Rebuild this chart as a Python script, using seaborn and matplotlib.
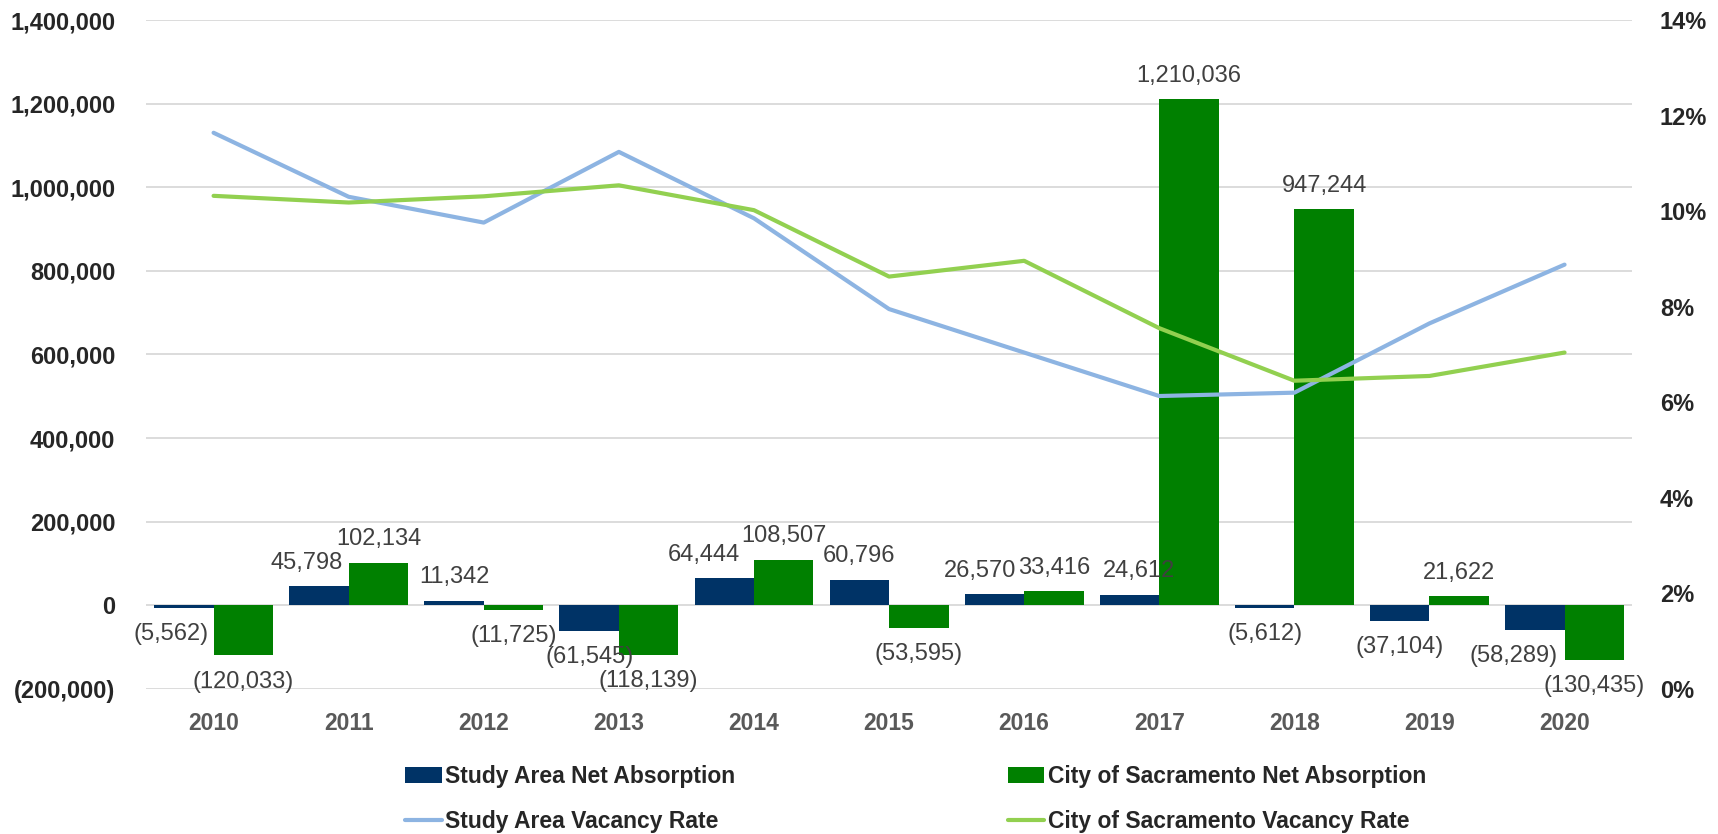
import numpy as np
import pandas as pd
import matplotlib
matplotlib.use('Agg')
import matplotlib.pyplot as plt
import seaborn as sns
from matplotlib.ticker import FuncFormatter, PercentFormatter

years = ['2010', '2011', '2012', '2013', '2014', '2015', '2016', '2017', '2018', '2019', '2020']
study_abs = [-5562, 45798, 11342, -61545, 64444, 60796, 26570, 24612, -5612, -37104, -58289]
city_abs = [-120033, 102134, -11725, -118139, 108507, -53595, 33416, 1210036, 947244, 21622, -130435]
study_vac = [0.1164, 0.1030, 0.0976, 0.1124, 0.0985, 0.0795, 0.0704, 0.0613, 0.0620, 0.0765, 0.0888]
city_vac = [0.1032, 0.1018, 0.1031, 0.1054, 0.1002, 0.0863, 0.0896, 0.0755, 0.0645, 0.0655, 0.0704]

s_abs = 'Study Area Net Absorption'
c_abs = 'City of Sacramento Net Absorption'
s_vac = 'Study Area Vacancy Rate'
c_vac = 'City of Sacramento Vacancy Rate'

navy = '#003366'
green = '#008000'
light_blue = '#8DB4E2'
light_green = '#92D050'

df = pd.DataFrame({
    'year': years * 2,
    'series': [s_abs] * len(years) + [c_abs] * len(years),
    'value': study_abs + city_abs,
})

sns.set_theme(style='white')
plt.rcParams['font.family'] = ['Liberation Sans', 'DejaVu Sans']

fig = plt.figure(figsize=(17.18, 8.34), dpi=100)
ax = fig.add_axes([0.085, 0.174, 0.865, 0.802])

sns.barplot(data=df, x='year', y='value', hue='series', hue_order=[s_abs, c_abs],
            palette=[navy, green], saturation=1, width=0.88, linewidth=0, ax=ax)

ax2 = ax.twinx()
xs = np.arange(len(years))
sns.lineplot(x=xs, y=study_vac, color=light_blue, linewidth=3.0, ax=ax2, label=s_vac)
sns.lineplot(x=xs, y=city_vac, color=light_green, linewidth=3.0, ax=ax2, label=c_vac)


def fmt_num(v, pos=None):
    if v < 0:
        return f'({-v:,.0f})'
    return f'{v:,.0f}'


# data labels, small sideways nudges (points) for the study area ones
nudge = {0: [-9, -9, 0, 0, -15, 0, -10, 7, 0, 0, -15], 1: [0] * 11}
for k, cont in enumerate(ax.containers):
    for i, bar in enumerate(cont):
        h = bar.get_height()
        xc = bar.get_x() + bar.get_width() / 2
        dy = 9 if h >= 0 else -11
        ax.annotate(fmt_num(h), (xc, h), xytext=(nudge[k][i], dy), textcoords='offset points',
                    ha='center', va='bottom' if h >= 0 else 'top',
                    fontsize=17, color='#404040')

ax.set_ylim(-200000, 1400000)
ax.set_yticks(np.arange(-200000, 1400001, 200000))
ax.yaxis.set_major_formatter(FuncFormatter(fmt_num))
ax2.set_ylim(0, 0.14)
ax2.set_yticks(np.arange(0, 0.141, 0.02))
ax2.yaxis.set_major_formatter(PercentFormatter(1.0, decimals=0))
ax.set_xlim(-0.5, 10.5)

ax.set_axisbelow(True)
ax.yaxis.grid(True, color='#D9D9D9', linewidth=1.3)
ax.xaxis.grid(False)
ax.set_xlabel('')
ax.set_ylabel('')
ax2.set_ylabel('')
for a in (ax, ax2):
    for sp in a.spines.values():
        sp.set_visible(False)

ax.tick_params(axis='y', length=0, pad=22, labelsize=17)
ax.tick_params(axis='x', length=0, pad=17, labelsize=16.5, labelcolor='#595959')
ax2.tick_params(axis='y', length=0, pad=20, labelsize=17)
for lab in ax.get_yticklabels() + ax.get_xticklabels() + ax2.get_yticklabels():
    lab.set_fontweight('bold')

h1, l1 = ax.get_legend_handles_labels()
h2, l2 = ax2.get_legend_handles_labels()
ax.get_legend().remove()
ax2.get_legend().remove()
handles = [h1[0], h2[0], h1[1], h2[1]]
labels = [l1[0], l2[0], l1[1], l2[1]]
fig.legend(handles, labels, ncol=2, loc='upper left', bbox_to_anchor=(0.229, 0.096),
           frameon=False, borderpad=0, handlelength=1.6, handleheight=0.7,
           handletextpad=0.15, columnspacing=11.9, labelspacing=0.95,
           prop={'weight': 'bold', 'size': 16.5})

fig.savefig('out.png', dpi=100)
